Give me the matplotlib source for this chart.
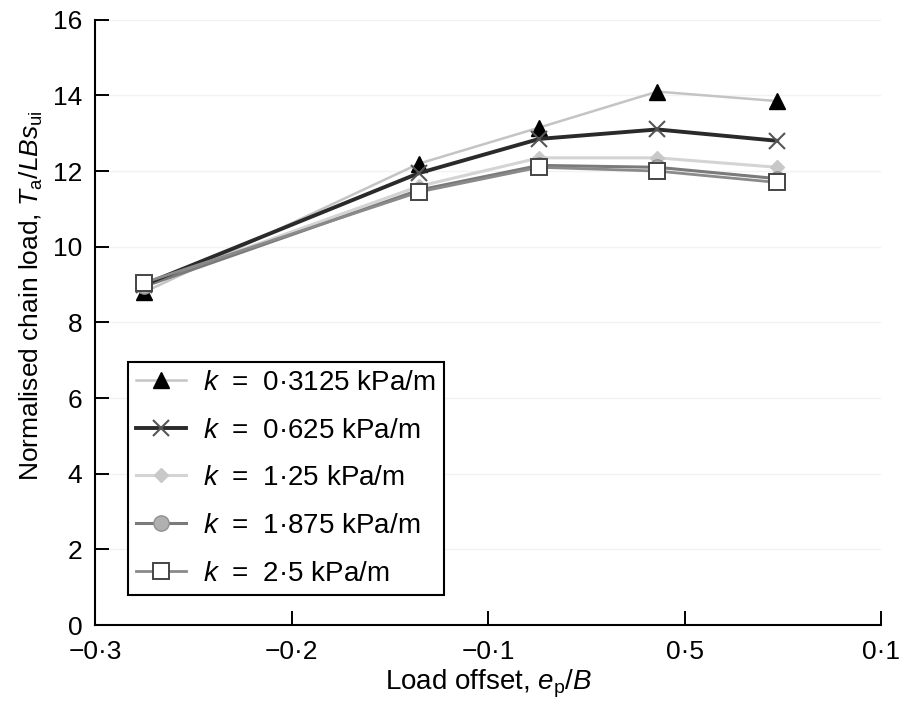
import matplotlib
matplotlib.use('Agg')
import matplotlib.pyplot as plt

plt.rcParams['font.family'] = ['Liberation Sans', 'DejaVu Sans']
plt.rcParams['mathtext.fontset'] = 'custom'
plt.rcParams['mathtext.rm'] = 'Liberation Sans'
plt.rcParams['mathtext.it'] = 'Liberation Sans:italic'

# load offset positions (same for every series)
offsets = [-0.275, -0.135, -0.074, -0.014, 0.047]

# normalised chain load for each spring stiffness k
load_k03125 = [8.8, 12.2, 13.15, 14.1, 13.85]
load_k0625 = [9.0, 11.95, 12.85, 13.1, 12.8]
load_k125 = [9.0, 11.6, 12.35, 12.35, 12.1]
load_k1875 = [8.95, 11.5, 12.15, 12.1, 11.8]
load_k25 = [9.05, 11.45, 12.1, 12.0, 11.7]

k_labels = ['0\u00b73125', '0\u00b7625', '1\u00b725', '1\u00b7875', '2\u00b75']

xtick_pos = [-0.3, -0.2, -0.1, 0.0, 0.1]
xtick_labels = ['\u22120\u00b73', '\u22120\u00b72', '\u22120\u00b71', '0\u00b75', '0\u00b71']
ytick_pos = [0, 2, 4, 6, 8, 10, 12, 14, 16]

fs = 19


def klab(v):
    return '$k\\;\\,=\\;\\,$' + v + ' kPa/m'


fig = plt.figure(figsize=(9.04, 7.04), dpi=100)
ax = fig.add_axes([0.105, 0.112, 0.870, 0.860])

ax.plot(offsets, load_k03125, color='#c4c4c4', lw=1.8, marker='^', ms=11,
        mfc='black', mec='black', label=klab(k_labels[0]), zorder=3)
ax.plot(offsets, load_k0625, color='#2a2a2a', lw=2.8, marker='x', ms=12,
        mew=1.5, mec='#555555', label=klab(k_labels[1]), zorder=4)
ax.plot(offsets, load_k125, color='#d4d4d4', lw=2.2, marker='D', ms=7,
        mfc='#c8c8c8', mec='#c8c8c8', label=klab(k_labels[2]), zorder=3)
ax.plot(offsets, load_k1875, color='#7a7a7a', lw=2.2, marker='o', ms=11,
        mfc='#b0b0b0', mec='#909090', label=klab(k_labels[3]), zorder=3)
ax.plot(offsets, load_k25, color='#8a8a8a', lw=2.0, marker='s', ms=12,
        mfc='white', mec='#444444', mew=1.4, label=klab(k_labels[4]), zorder=5)

ax.set_xlim(-0.3, 0.1)
ax.set_ylim(0, 16)
ax.set_xticks(xtick_pos)
ax.set_xticklabels(xtick_labels)
ax.set_yticks(ytick_pos)
ax.tick_params(labelsize=fs, length=10, width=1.4, direction='in')
ax.tick_params(axis='y', pad=9)
ax.tick_params(axis='x', pad=11)
ax.yaxis.grid(True, color='#f2f2f2', lw=1)
ax.set_axisbelow(True)

for side in ['top', 'right']:
    ax.spines[side].set_visible(False)
for side in ['left', 'bottom']:
    ax.spines[side].set_linewidth(1.5)

ax.set_xlabel('Load offset, $e_{\\mathrm{p}}/B$', fontsize=fs + 1)
ax.xaxis.set_label_coords(0.5, -0.071)
ax.set_ylabel('Normalised chain load, $T_{\\mathrm{a}}/LBs_{\\mathrm{ui}}$',
              fontsize=fs)
ax.yaxis.set_label_coords(-0.064, 0.544)

leg = ax.legend(loc='lower left', bbox_to_anchor=(0.042, 0.05), fontsize=fs + 1,
                fancybox=False, edgecolor='black', framealpha=1,
                handlelength=1.8, handletextpad=0.6, labelspacing=0.78,
                borderpad=0.3, borderaxespad=0)
leg.get_frame().set_linewidth(1.5)

fig.savefig('out.png', dpi=100)
